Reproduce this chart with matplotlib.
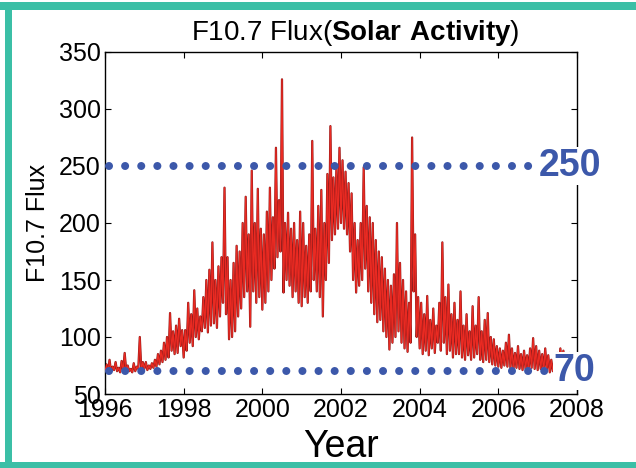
import numpy as np
import matplotlib
matplotlib.use("Agg")
import matplotlib.pyplot as plt
from matplotlib.patches import Rectangle

plt.rcParams["font.family"] = ["Liberation Sans", "DejaVu Sans"]
plt.rcParams["mathtext.fontset"] = "custom"
plt.rcParams["mathtext.rm"] = "Liberation Sans"
plt.rcParams["mathtext.bf"] = "Liberation Sans:bold"

# F10.7 solar radio flux, sampled roughly every two weeks (26 samples per year)
flux_1996 = [70, 76, 69, 80, 70, 74, 71, 78, 70, 73, 69, 79, 70, 86, 71, 75, 70, 72, 69, 77, 70, 74, 72, 100, 71, 78]
flux_1997 = [72, 78, 71, 75, 72, 77, 73, 80, 74, 85, 76, 88, 78, 95, 80, 100, 82, 121, 88, 105, 85, 110, 86, 116, 92, 106]
flux_1998 = [82, 106, 88, 130, 95, 120, 92, 141, 100, 125, 98, 118, 105, 135, 108, 150, 104, 159, 110, 183, 112, 150, 108, 162, 118, 170]
flux_1999 = [130, 231, 120, 170, 98, 150, 100, 165, 105, 180, 118, 175, 125, 200, 135, 223, 140, 190, 109, 246, 140, 200, 130, 230, 135, 195]
flux_2000 = [124, 190, 130, 210, 140, 231, 150, 205, 160, 266, 170, 220, 175, 326, 139, 200, 150, 209, 145, 195, 135, 200, 140, 185, 130, 210]
flux_2001 = [127, 200, 135, 180, 130, 190, 140, 272, 150, 195, 140, 215, 135, 229, 118, 200, 150, 243, 165, 285, 185, 240, 190, 250, 195, 266]
flux_2002 = [200, 255, 195, 245, 190, 235, 175, 226, 150, 200, 139, 185, 145, 200, 150, 249, 160, 215, 140, 205, 130, 200, 120, 185, 113, 175]
flux_2003 = [115, 170, 105, 160, 100, 150, 89, 145, 95, 155, 100, 200, 105, 165, 95, 150, 90, 140, 87, 130, 95, 275, 140, 190, 100, 135]
flux_2004 = [90, 130, 85, 120, 88, 136, 84, 115, 90, 125, 86, 110, 95, 130, 88, 183, 95, 135, 85, 146, 88, 120, 82, 130, 85, 115]
flux_2005 = [85, 140, 82, 110, 80, 120, 84, 105, 80, 127, 82, 110, 85, 135, 80, 105, 78, 115, 80, 121, 78, 100, 76, 98, 75, 92]
flux_2006 = [74, 90, 73, 88, 75, 95, 74, 102, 73, 90, 72, 86, 73, 92, 72, 85, 71, 88, 72, 84, 71, 90, 73, 99, 72, 92]
flux_2007 = [71, 88, 72, 85, 70, 90, 71, 84, 69, 80, 70, 78, 69, 86, 70, 90, 71, 88, 70, 82, 69, 86, 70, 84]

yearly = [flux_1996, flux_1997, flux_1998, flux_1999, flux_2000, flux_2001,
          flux_2002, flux_2003, flux_2004, flux_2005, flux_2006, flux_2007]
first_year = 1996
samples_per_year = 26

flux = np.concatenate([np.asarray(v, dtype=float) for v in yearly])
years = first_year + np.arange(flux.size) / samples_per_year

# reference levels marked on the chart
levels = [250, 70]
level_labels = ["250", "70"]
level_ends = [2006.86, 2007.24]

x_ticks = [1996, 1998, 2000, 2002, 2004, 2006, 2008]
y_ticks = [50, 100, 150, 200, 250, 300, 350]

W, H = 636, 468
fig = plt.figure(figsize=(W / 100, H / 100), dpi=100)
ax = fig.add_axes([105 / W, 1 - 394 / H, (577 - 105) / W, (394 - 52) / H])

ax.plot(years, flux, color="#8e1a1a", lw=1.6, zorder=2)
ax.plot(years, flux, color="#ea2a22", lw=0.9, zorder=3)

blue = "#3c58aa"
for lvl, lab, xend in zip(levels, level_labels, level_ends):
    ax.plot([1996.1, xend], [lvl, lvl], color=blue, lw=5.8,
            linestyle=(0, (0.001, 2.0)), dash_capstyle="round", zorder=5,
            clip_on=False)
    ax.text(xend + 0.16, lvl, lab, color=blue, fontsize=27, fontweight="bold",
            ha="left", va="center", zorder=6, clip_on=False,
            bbox=dict(facecolor="white", edgecolor="none", pad=0.5))

ax.set_xlim(1996, 2008)
ax.set_ylim(50, 350)
ax.set_xticks(x_ticks)
ax.set_yticks(y_ticks)
ax.tick_params(direction="in", length=4, width=0.8, top=True, right=True,
               labelsize=18, pad=3)
for s in ax.spines.values():
    s.set_linewidth(1.0)

ax.set_ylabel("F10.7 Flux", fontsize=18, labelpad=6)
ax.set_xlabel("Year", fontsize=27, labelpad=5)
ax.set_title(r"F10.7 Flux($\mathbf{Solar\ Activity}$)", fontsize=20,
             x=0.53, pad=9)

# teal frame
teal = "#3bbfa6"
fig.patches.append(Rectangle((0, 1 - 10 / H), 1, 8 / H, transform=fig.transFigure,
                             facecolor=teal, edgecolor="none"))
fig.patches.append(Rectangle((5 / W, 0), 7 / W, 1 - 5 / H, transform=fig.transFigure,
                             facecolor=teal, edgecolor="none"))
fig.patches.append(Rectangle((0, 0), 1, 6 / H, transform=fig.transFigure,
                             facecolor=teal, edgecolor="none"))

fig.savefig("out.png", dpi=100)
